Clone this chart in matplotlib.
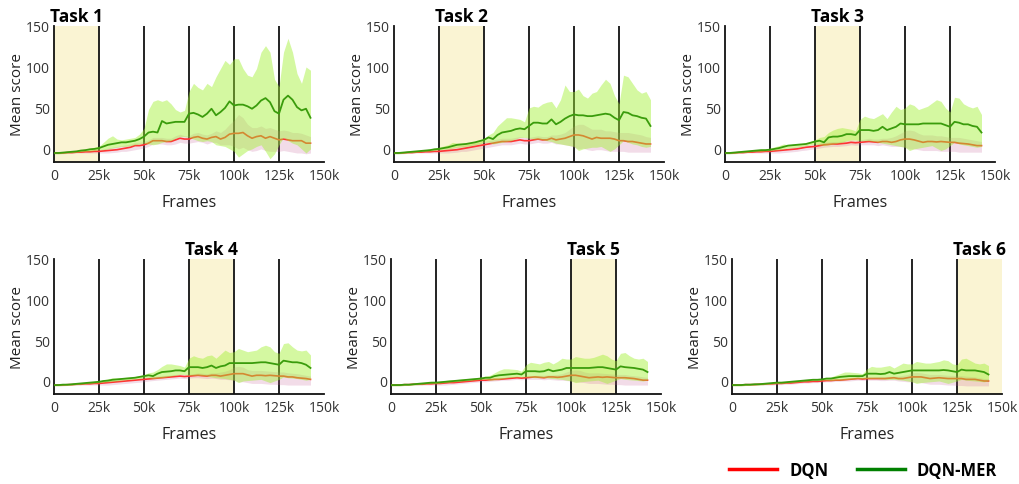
import matplotlib
matplotlib.use("Agg")
import matplotlib.pyplot as plt
import matplotlib.transforms as mtransforms
from matplotlib.lines import Line2D
import numpy as np

plt.rcParams['font.family'] = ['Open Sans', 'DejaVu Sans']

# frames (in thousands), 2.5k step from 0 to 142.5k
frames_k = [i * 2.5 for i in range(58)]
tick_vals = [0, 25, 50, 75, 100, 125, 150]
tick_labels = ["0", "25k", "50k", "75k", "100k", "125k", "150k"]
task_names = ["Task 1", "Task 2", "Task 3", "Task 4", "Task 5", "Task 6"]
task_spans_k = [(0, 25), (25, 50), (50, 75), (75, 100), (100, 125), (125, 150)]
boundaries_k = [25, 50, 75, 100, 125]

# ---------------- Task 1 ----------------
mer1 = [-5, -5, -4.5, -4, -3.5, -3, -2, -1.5, -0.5, 0,
        1, 3, 5, 6, 7, 8, 8, 9, 10, 12,
        15, 20, 21, 20, 34, 31, 32, 33, 33, 33,
        43, 44, 42, 39, 43, 49, 41, 45, 50, 58,
        53, 54, 54, 52, 49, 53, 59, 62, 57, 46,
        43, 60, 65, 60, 51, 47, 49, 38]
mer1_hi = [-4, -4, -3.5, -3, -2.5, -2, -1, 0, 1, 2,
           3, 8, 13, 16, 12, 11, 12, 13, 14, 18,
           25, 48, 58, 60, 58, 60, 55, 48, 45, 47,
           70, 80, 75, 72, 80, 76, 88, 98, 108, 103,
           110, 110, 98, 90, 88, 98, 118, 126, 118, 85,
           76, 118, 135, 118, 92, 80, 100, 96]
mer1_lo = [-6, -6, -5.5, -5, -4.5, -4, -3.5, -3, -2.5, -2,
           -1, -1, 0, 1, 2, 3, 3, 4, 5, 6,
           7, 6, 5, 6, 8, 9, 10, 13, 15, 15,
           14, 12, 10, 9, 10, 9, 5, 4, 3, 0,
           -3, -10, -6, -2, 0, 3, 5, -3, -12, -6,
           5, 14, 10, 7, 5, 0, -5, 0]
dqn1 = [-5, -5, -5, -4.5, -4.5, -4, -4, -3.5, -3.5, -3,
        -3, -2.5, -2, -1.5, -1, 0, 1, 2, 4, 4,
        5, 7, 10, 10, 10, 9, 9, 11, 13, 12,
        12, 14, 15, 13, 12, 14, 15, 12, 14, 18,
        19, 19, 20, 16, 13, 15, 16, 13, 15, 13,
        11, 12, 11, 10, 10, 10, 7, 7]
dqn1_hi = [-4, -4, -4, -3.5, -3.5, -3, -3, -2.5, -2, -1.5,
           -1, 0, 1, 2, 3, 4, 5, 6, 8, 8,
           9, 11, 14, 14, 14, 13, 13, 16, 18, 16,
           16, 19, 20, 18, 17, 19, 22, 20, 24, 30,
           35, 42, 38, 30, 26, 26, 28, 25, 26, 24,
           22, 23, 22, 20, 20, 19, 17, 15]
dqn1_lo = [-6, -6, -6, -5.5, -5.5, -5, -5, -5, -5, -5,
           -5, -5, -5, -4.5, -4, -3, -3, -2, -1, 0,
           1, 3, 6, 6, 6, 5, 5, 6, 8, 7,
           7, 8, 9, 8, 6, 8, 8, 5, 5, 5,
           3, 0, 2, -1, -3, -2, 0, -2, -3, -3,
           -3, -2, -3, -4, -5, -5, -6, -5]

# ---------------- Task 2 ----------------
mer2 = [-5, -5, -4.5, -4, -3.5, -3, -2.5, -2, -1.5, -0.5,
        0, 1, 2, 3.5, 5, 5.5, 6, 7, 8, 9.5,
        11, 14, 12, 17, 20, 21, 22, 24, 25, 24,
        28, 32, 32, 31, 31, 36, 30, 33, 37, 40,
        42, 41, 41, 40, 40, 41, 42, 43, 42, 38,
        35, 45, 44, 41, 40, 38, 37, 28]
mer2_hi = [-4, -4, -3.5, -3, -2.5, -2, -1.5, -1, 0, 1,
           2, 3.5, 5, 8, 7, 7, 7, 8, 9, 11,
           13, 17, 20, 28, 33, 38, 38, 37, 36, 33,
           50, 52, 51, 55, 57, 58, 50, 60, 78, 70,
           70, 73, 65, 62, 68, 70, 78, 85, 80, 65,
           55, 90, 88, 80, 72, 68, 70, 60]
mer2_lo = [-6, -6, -5.5, -5, -4.5, -4, -3.5, -3, -2.5, -2,
           -1, -0.5, 0, 1, 2, 2.5, 3, 4, 5, 6,
           8, 8, 6, 7, 8, 9, 10, 12, 14, 14,
           13, 12, 12, 11, 10, 9, 7, 6, 5, 4,
           3, -2, 0, 1, 2, 2, 3, 0, -3, 0,
           5, 10, 8, 6, 5, 3, 2, 3]
dqn2 = [-5, -5, -5, -4.5, -4.5, -4, -4, -3.5, -3.5, -3,
        -3, -2.5, -2, -1.5, -1, 0, 1, 2, 3, 4,
        5, 6, 7, 8, 9, 9, 9, 10, 11, 10,
        10, 11, 12, 11, 11, 13, 11, 12, 13, 15,
        17, 17, 16, 14, 12, 14, 13, 13, 13, 12,
        10, 10, 9, 9, 8, 7, 6, 6]
dqn2_hi = [-4, -4, -4, -3.5, -3.5, -3, -3, -2.5, -2, -1.5,
           -1, 0, 1, 2, 3, 4, 5, 6, 7, 8,
           9, 10, 11, 12, 13, 13, 13, 14, 15, 14,
           14, 15, 16, 15, 15, 17, 17, 18, 20, 24,
           28, 30, 30, 27, 24, 24, 24, 22, 22, 21,
           20, 20, 20, 19, 18, 17, 15, 14]
dqn2_lo = [-6, -6, -6, -5.5, -5.5, -5, -5, -5, -5, -5,
           -5, -5, -5, -4.5, -4, -3, -3, -2, -1, 0,
           1, 2, 3, 4, 5, 5, 5, 6, 7, 6,
           6, 7, 8, 7, 7, 8, 6, 6, 5, 4,
           2, 0, 1, -1, -2, -1, -1, -2, -3, -3,
           -3, -3, -4, -4, -4, -4, -4, -4]

# ---------------- Task 3 ----------------
mer3 = [-5, -5, -4.5, -4, -3.5, -3, -2.5, -2, -1.5, -1.5,
        -1, 0, 1, 2.5, 4, 4.5, 5, 5.5, 6, 7.5,
        9, 10, 8, 14, 15, 15, 16, 18, 18, 17,
        23, 23, 23, 22, 23, 27, 23, 25, 27, 31,
        30, 30, 30, 30, 31, 31, 31, 31, 31, 29,
        27, 33, 32, 30, 30, 28, 27, 20]
mer3_hi = [-4, -4, -3.5, -3, -2.5, -2, -1.5, -1, -0.5, 0,
           1, 2.5, 4, 6, 5, 5.5, 6, 6.5, 7, 9,
           11, 14, 15, 20, 23, 25, 26, 25, 24, 22,
           36, 40, 38, 37, 40, 43, 37, 45, 52, 48,
           50, 55, 53, 48, 50, 52, 56, 60, 58, 50,
           45, 63, 62, 55, 52, 50, 52, 42]
mer3_lo = [-6, -6, -5.5, -5, -4.5, -4, -3.5, -3, -3, -2.5,
           -2, -1.5, -1, 0, 1, 1.5, 2, 3, 4, 5,
           6, 5, 4, 5, 6, 7, 8, 10, 11, 11,
           10, 10, 10, 9, 8, 7, 6, 5, 4, 3,
           2, -2, 0, 1, 2, 3, 4, 1, -2, 0,
           4, 8, 6, 5, 4, 3, 2, 3]
dqn3 = [-5, -5, -5, -4.5, -4.5, -4, -4, -3.5, -3.5, -3,
        -3, -2.5, -2, -1.5, -1, -0.5, 0, 1, 2, 2.5,
        3, 4, 5, 5.5, 6, 6, 6.5, 7, 8, 7.5,
        8, 8.5, 9, 8.5, 8, 9, 9, 8, 9, 11,
        12, 12, 11, 9.5, 8, 9, 9, 8.5, 9, 8.5,
        8, 8, 7, 6.5, 6, 5, 4, 4]
dqn3_hi = [-4, -4, -4, -3.5, -3.5, -3, -3, -2.5, -2, -1.5,
           -1, -0.5, 0, 0.5, 1, 2, 3, 4, 5, 5.5,
           6, 7, 8, 8.5, 9, 9, 9.5, 10, 11, 10.5,
           11, 12, 13, 12, 12, 13, 13, 14, 16, 19,
           22, 23, 22, 19, 17, 17, 17, 16, 16, 15,
           14, 14, 14, 13, 12, 11, 10, 9]
dqn3_lo = [-6, -6, -6, -5.5, -5.5, -5, -5, -5, -5, -5,
           -5, -5, -5, -4.5, -4, -3.5, -3, -2, -1.5, -0.5,
           0, 1, 2, 2.5, 3, 3, 3.5, 4, 5, 4.5,
           5, 5, 5, 5, 4, 5, 4, 3, 3, 3,
           2, 0, 0, -1, -2, -2, -2, -2, -3, -3,
           -3, -3, -4, -4, -4, -4, -4, -4]

# ---------------- Task 4 ----------------
mer4 = [-5, -5, -4.5, -4.5, -4, -3.5, -3, -2.5, -2, -1.5,
        -1, 0, 0.5, 1.5, 2, 2.5, 3, 3.5, 4, 5,
        6, 7, 6, 9, 11, 11.5, 12, 13, 13, 12,
        17, 17, 17, 16, 17, 19, 16, 18, 19, 22,
        22, 22, 22, 22, 22, 22.5, 23, 23, 22, 21,
        20, 25, 24, 23, 23, 22, 20, 16]
mer4_hi = [-4, -4, -3.5, -3.5, -3, -2.5, -2, -1.5, -1, -0.5,
           0, 1.5, 2.5, 4, 3.5, 4, 4.5, 5, 5.5, 6.5,
           8, 10, 11, 14, 18, 21, 21, 20, 19, 17,
           28, 31, 29, 28, 31, 32, 28, 33, 38, 35,
           36, 40, 38, 36, 37, 38, 42, 44, 42, 36,
           34, 46, 47, 42, 38, 37, 38, 32]
mer4_lo = [-6, -6, -5.5, -5.5, -5, -4.5, -4, -3.5, -3, -2.5,
           -2, -1.5, -1, -0.5, 0, 1, 1.5, 2, 2.5, 3,
           4, 4, 3, 3.5, 4, 5, 6, 7, 8, 8,
           7, 7, 7, 6.5, 6, 5, 4, 3.5, 3, 2,
           1, -2, 0, 0.5, 1, 1.5, 2, 0, -2, 0,
           2, 5, 4, 3.5, 3, 2, 1, 2]
dqn4 = [-5, -5, -5, -4.5, -4.5, -4, -4, -3.5, -3.5, -3,
        -3, -2.5, -2, -1.5, -1, -0.5, 0, 0.5, 1, 1.5,
        2, 2.5, 3, 3.5, 4, 4.5, 5, 5.5, 6, 5.5,
        6, 6.5, 7, 6.5, 6, 7, 7, 6, 7, 8,
        9, 9, 9, 7.5, 6, 7, 7, 6.5, 7, 6.5,
        6, 6, 5, 5, 4, 3.5, 3, 2]
dqn4_hi = [-4, -4, -4, -3.5, -3.5, -3, -3, -2.5, -2, -1.5,
           -1, -0.5, 0, 0.5, 1, 1.5, 2, 2.5, 3, 3.5,
           4, 5, 5.5, 6, 6.5, 7, 7.5, 8, 8.5, 8,
           8.5, 9, 10, 9.5, 9, 10, 10, 11, 12, 14,
           17, 18, 17, 14, 13, 13, 13, 12.5, 12, 11.5,
           11, 11, 10, 9.5, 9, 8, 7, 6]
dqn4_lo = [-6, -6, -6, -5.5, -5.5, -5, -5, -5, -5, -5,
           -5, -5, -5, -4.5, -4, -3.5, -3, -2.5, -2, -1.5,
           -1, 0, 0.5, 1, 1.5, 2, 2.5, 3, 3.5, 3,
           3.5, 4, 4, 3.5, 3, 3.5, 3, 2, 2, 1.5,
           1, -1, -1, -2, -3, -3, -3, -3.5, -4, -4,
           -4.5, -4.5, -5, -5, -5, -5, -5, -5]

# ---------------- Task 5 ----------------
mer5 = [-5, -5, -5, -4.5, -4.5, -4, -3.5, -3, -2.5, -2,
        -2, -1.5, -1, -0.5, 0, 0.5, 1, 1.5, 2, 2.5,
        3, 4, 4, 6, 7, 7.5, 8, 8.5, 9, 8,
        12, 12, 12, 11.5, 12, 14, 12, 13, 14, 16,
        16, 16, 16, 16, 16, 16.5, 17, 17, 16, 15,
        14, 18, 17, 16.5, 16, 15, 14, 11]
mer5_hi = [-4, -4, -4, -3.5, -3.5, -3, -2.5, -2, -1.5, -1,
           -1, 0, 0.5, 1.5, 1.5, 2, 2.5, 3, 3.5, 4,
           5, 6, 7, 10, 13, 15, 15, 14.5, 14, 12,
           20, 23, 22, 21, 23, 24, 21, 24, 28, 27,
           27, 30, 29, 28, 28, 29, 31, 33, 31, 27,
           25, 34, 35, 31, 28, 27, 28, 24]
mer5_lo = [-6, -6, -6, -5.5, -5.5, -5, -4.5, -4, -3.5, -3,
           -3, -2.5, -2, -1.5, -1, -0.5, 0, 0.5, 1, 1.5,
           2, 2, 1, 1.5, 2, 3, 4, 4.5, 5, 5,
           5, 4.5, 4, 4, 4, 3.5, 3, 2.5, 2, 1,
           0, -2, -1, -0.5, 0, 0.5, 1, -1, -3, -1,
           1, 3, 2, 1.5, 1, 0.5, 0, 1]
dqn5 = [-5, -5, -5, -4.5, -4.5, -4, -4, -4, -3.5, -3.5,
        -3, -3, -2.5, -2, -2, -1.5, -1, -0.5, 0, 0.5,
        1, 1, 1.5, 2, 2, 2.5, 3, 3.5, 4, 3.5,
        4, 4.5, 5, 4.5, 4, 5, 5, 4.5, 5, 6,
        7, 7, 6, 5, 4, 4.5, 5, 4.5, 5, 4.5,
        4, 4, 4, 3.5, 3, 2, 1, 1]
dqn5_hi = [-4, -4, -4, -3.5, -3.5, -3, -3, -3, -2.5, -2.5,
           -2, -2, -1.5, -1, -1, -0.5, 0, 0.5, 1, 1.5,
           2, 2.5, 3, 3.5, 4, 4.5, 5, 5.5, 6, 5.5,
           6, 6.5, 7, 7, 7, 7.5, 7.5, 8, 9, 11,
           13, 13.5, 13, 11, 10, 10, 10, 9.5, 9, 8.5,
           8, 8, 8, 7, 6.5, 6, 5, 4.5]
dqn5_lo = [-6, -6, -6, -5.5, -5.5, -5, -5, -5, -5, -5,
           -5, -5, -5, -4.5, -4, -3.5, -3, -2.5, -2, -1.5,
           -1, -1, -0.5, 0, 0.5, 1, 1, 1.5, 2, 1.5,
           2, 2, 2, 2, 1.5, 2, 1.5, 1, 1, 0.5,
           0, -1, -1.5, -2, -3, -3, -3, -3.5, -4, -4,
           -4.5, -4.5, -5, -5, -5, -5, -5, -5]

# ---------------- Task 6 ----------------
mer6 = [-5, -5, -5, -4.5, -4.5, -4, -4, -3.5, -3, -2.5,
        -2, -2, -1.5, -1, -0.5, 0, 0.5, 1, 1.5, 1.5,
        2, 3, 3, 4, 5, 5.5, 6, 6, 6, 6,
        9, 9, 9, 8.5, 9, 11, 9, 10, 11, 12,
        13, 13, 13, 13, 13, 13, 13, 13.5, 13, 12,
        11, 14, 13, 13, 13, 12, 11, 8]
mer6_hi = [-4, -4, -4, -3.5, -3.5, -3, -3, -2.5, -2, -1.5,
           -1, -1, -0.5, 0.5, 0.5, 1, 1.5, 2, 2, 2.5,
           3, 4, 5, 7, 9, 11, 11, 10.5, 10, 9,
           15, 18, 17, 17, 18, 19, 16, 19, 22, 21,
           21, 24, 23, 22, 22, 23, 24, 26, 25, 21,
           20, 27, 28, 25, 22, 21, 22, 19]
mer6_lo = [-6, -6, -6, -5.5, -5.5, -5, -5, -4.5, -4, -3.5,
           -3, -3, -2.5, -2, -1.5, -1, -0.5, 0, 0.5, 0.5,
           1, 1, 0.5, 1, 1, 1.5, 2, 2.5, 3, 3,
           3, 3, 3, 2.5, 2, 2, 2, 1.5, 1, 0,
           -1, -3, -2, -1.5, -1, -0.5, 0, -1.5, -3, -1.5,
           0, 2, 1, 0.5, 0, -0.5, -1, 0]
dqn6 = [-5, -5, -5, -4.5, -4.5, -4.5, -4, -4, -3.5, -3.5,
        -3, -3, -2.5, -2.5, -2, -1.5, -1, -1, -0.5, -0.5,
        0, 0.5, 0.5, 1, 1, 1.5, 2, 2.5, 3, 2.5,
        3, 3, 3, 3, 3, 3.5, 4, 3, 3, 4,
        5, 5, 5, 4, 3, 3.5, 4, 3.5, 3, 3,
        3, 3, 2, 2, 2, 1, 0, 0]
dqn6_hi = [-4, -4, -4, -3.5, -3.5, -3.5, -3, -3, -2.5, -2.5,
           -2, -2, -1.5, -1.5, -1, -0.5, 0, 0, 0.5, 0.5,
           1, 1.5, 2, 2.5, 3, 3.5, 4, 4.5, 5, 4.5,
           5, 5, 5.5, 5.5, 5.5, 6, 6, 6, 7, 8,
           10, 10.5, 10, 9, 8, 8, 8, 7.5, 7, 7,
           6.5, 6.5, 6, 5.5, 5, 4, 3, 3]
dqn6_lo = [-6, -6, -6, -5.5, -5.5, -5.5, -5, -5, -5, -5,
           -4.5, -4.5, -4, -4, -3.5, -3, -2.5, -2.5, -2, -2,
           -1.5, -1, -1, -0.5, -0.5, 0, 0, 0.5, 1, 0.5,
           1, 1, 1, 0.5, 0.5, 1, 1, 0, -0.5, -1,
           -1, -2, -2, -3, -4, -4, -4, -4.5, -5, -5,
           -5.5, -5.5, -6, -6, -6, -6, -6, -6]

tasks = [
    (mer1, mer1_lo, mer1_hi, dqn1, dqn1_lo, dqn1_hi),
    (mer2, mer2_lo, mer2_hi, dqn2, dqn2_lo, dqn2_hi),
    (mer3, mer3_lo, mer3_hi, dqn3, dqn3_lo, dqn3_hi),
    (mer4, mer4_lo, mer4_hi, dqn4, dqn4_lo, dqn4_hi),
    (mer5, mer5_lo, mer5_hi, dqn5, dqn5_lo, dqn5_hi),
    (mer6, mer6_lo, mer6_hi, dqn6, dqn6_lo, dqn6_hi),
]

W, H = 1019, 485
fig = plt.figure(figsize=(W / 100, H / 100), dpi=100)

# axes pixel boxes (left, top, right, bottom)
boxes = [(54, 27, 324, 163), (394, 27, 664, 163), (725, 27, 995, 163),
         (54, 260, 324, 395), (391, 260, 661, 395), (732, 260, 1002, 395)]

RED = '#ff3333'
GREEN = '#3a9c0c'
x = np.array(frames_k)

for i, (box, data) in enumerate(zip(boxes, tasks)):
    l, t, r, b = box
    ax = fig.add_axes([l / W, 1 - b / H, (r - l) / W, (b - t) / H])
    mer, mer_lo, mer_hi, dqn, dqn_lo, dqn_hi = data
    s0, s1 = task_spans_k[i]
    ax.axvspan(s0, s1, color='#faf4d3', zorder=0, lw=0)
    for bk in boundaries_k:
        ax.axvline(bk, color='#222222', lw=1.4, zorder=1)
    ax.fill_between(x, dqn_lo, dqn_hi, color='#c8609a', alpha=0.22, lw=0, zorder=2)
    ax.plot(x, dqn, color=RED, lw=1.2, zorder=3)
    ax.fill_between(x, mer_lo, mer_hi, color='#a0f030', alpha=0.45, lw=0, zorder=4)
    ax.plot(x, mer, color=GREEN, lw=1.3, zorder=5)

    ax.set_xlim(0, 150)
    ax.set_ylim(-16, 150)
    ax.set_xticks(tick_vals)
    ax.set_xticklabels(tick_labels)
    ax.set_yticks([0, 50, 100, 150])
    ax.tick_params(length=0, labelsize=10, labelcolor='#333333')
    ax.tick_params(axis='x', pad=4)
    ax.tick_params(axis='y', pad=3)
    for sp in ['top', 'right']:
        ax.spines[sp].set_visible(False)
    for sp in ['left', 'bottom']:
        ax.spines[sp].set_color('#111111')
        ax.spines[sp].set_linewidth(1.3)
    ax.set_xlabel('Frames', fontsize=11.5, color='#222222', labelpad=8)
    ax.set_ylabel('Mean score', fontsize=11, color='#222222', labelpad=0.5)
    trans = mtransforms.blended_transform_factory(ax.transData, ax.transAxes)
    ax.text((s0 + s1) / 2, 1.01, task_names[i], transform=trans, ha='center',
            va='bottom', fontsize=12.5, fontweight='bold', clip_on=False)

handles = [Line2D([], [], color='#ff0000', lw=2.5), Line2D([], [], color='#008000', lw=2.5)]
fig.legend(handles, ['DQN', 'DQN-MER'], loc='center', bbox_to_anchor=(863 / W, 1 - 471 / H),
           ncol=2, frameon=False, handlelength=2.9, columnspacing=1.7, handletextpad=0.7,
           prop={'weight': 'bold', 'size': 12})

fig.savefig('out.png', dpi=100)
